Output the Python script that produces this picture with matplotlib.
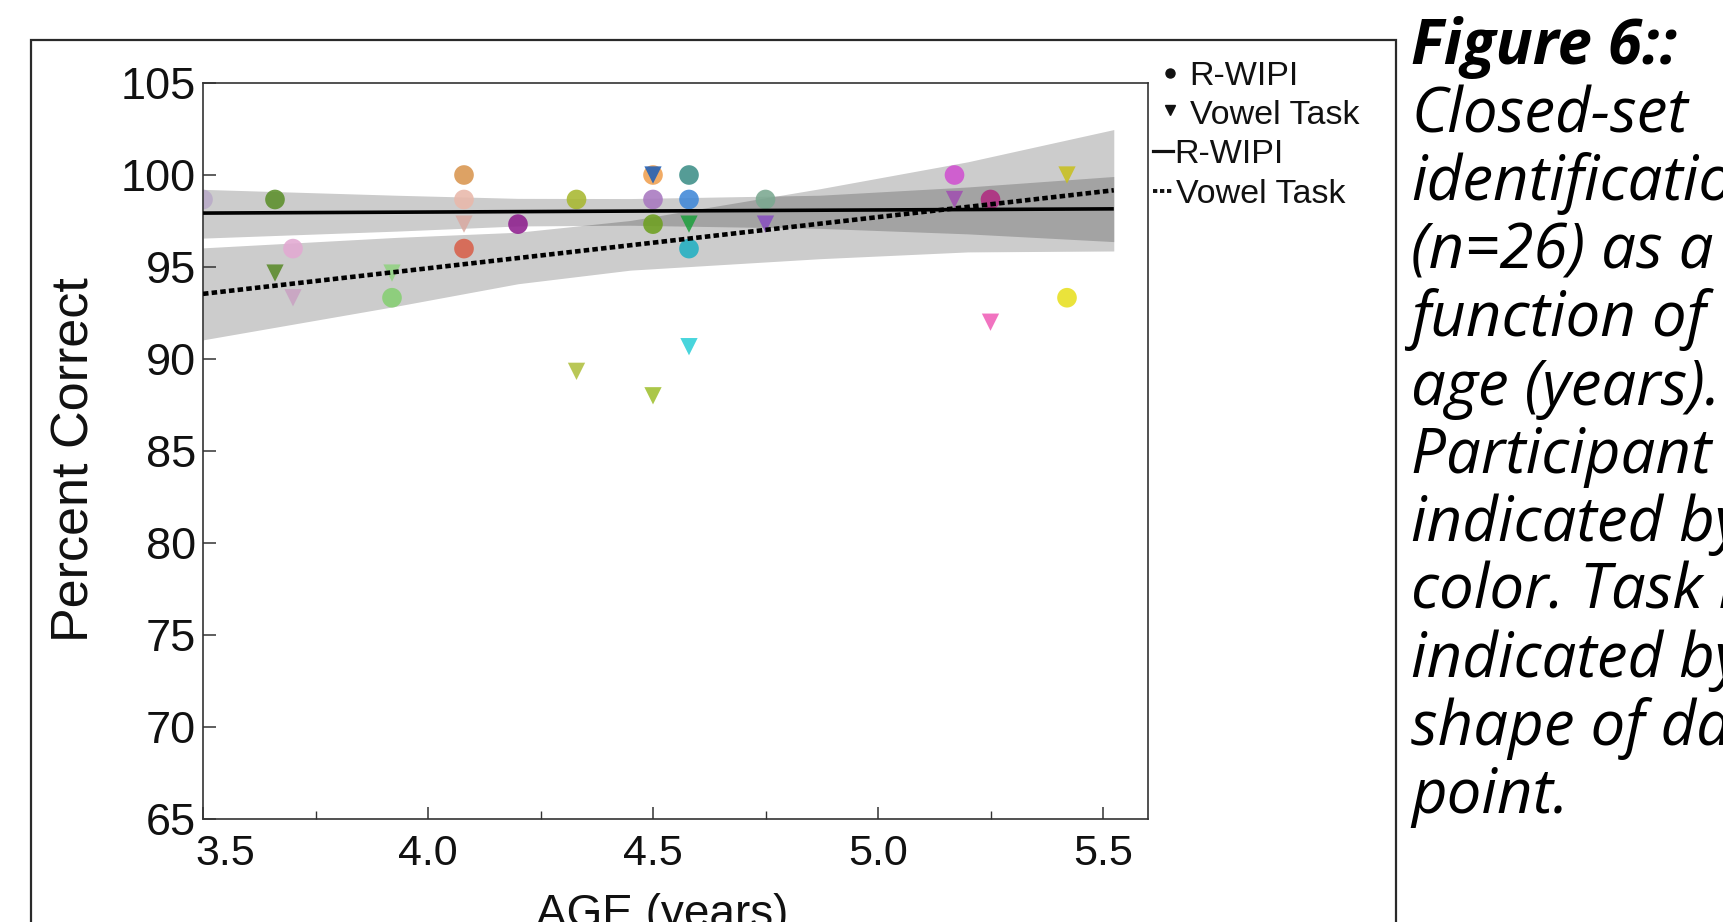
import matplotlib
matplotlib.use("Agg")
import matplotlib.pyplot as plt
from matplotlib.lines import Line2D
from matplotlib.patches import Rectangle
from matplotlib.transforms import ScaledTranslation

plt.rcParams['font.family'] = ['Liberation Sans', 'DejaVu Sans']

# ---------------- data ----------------
# R-WIPI (circles)
rwipi_age = [3.50, 3.66, 3.70, 3.92, 4.08, 4.08, 4.08, 4.20, 4.33, 4.50,
             4.50, 4.50, 4.58, 4.58, 4.58, 4.75, 5.17, 5.25, 5.42]
rwipi_pct = [98.67, 98.67, 96.00, 93.33, 100.0, 98.67, 96.00, 97.33, 98.67, 100.0,
             98.67, 97.33, 100.0, 98.67, 96.00, 98.67, 100.0, 98.67, 93.33]
rwipi_col = ['#b9aac8', '#5b8f2a', '#e2a9d2', '#86cf72', '#d9954f', '#e9b8aa',
             '#d8604a', '#8e1f8e', '#a8b830', '#f0a050', '#a878c0', '#6ea020',
             '#3d8f88', '#4088d8', '#22b0c2', '#7aa890', '#d050d0', '#b02a80',
             '#e8e020']

# Vowel task (triangles)
vowel_age = [3.66, 3.70, 3.92, 4.08, 4.33, 4.50, 4.50, 4.58, 4.58, 4.75,
             5.17, 5.25, 5.42]
vowel_pct = [94.67, 93.33, 94.67, 97.33, 89.33, 100.0, 88.00, 97.33, 90.67,
             97.33, 98.67, 92.00, 100.0]
vowel_col = ['#5a8a2a', '#c9a2c2', '#92d282', '#d9aaa2', '#b0c040', '#2060b8',
             '#a0c030', '#20a040', '#30d0d8', '#8850c0', '#a050b0', '#f060b8',
             '#c8c020']

# fitted lines (end points)
fit_age = [3.50, 5.524]
rwipi_fit = [97.93, 98.16]
vowel_fit = [93.54, 99.17]

# confidence bands (edges read at several ages)
band_age = [3.50, 3.93, 4.20, 4.45, 4.87, 5.20, 5.524]
rwipi_lo = [96.57, 96.95, 97.23, 97.27, 97.10, 96.80, 96.38]
rwipi_hi = [99.22, 98.90, 98.73, 98.72, 98.90, 99.35, 99.92]
vowel_lo = [91.04, 92.87, 94.09, 94.83, 95.45, 95.82, 95.87]
vowel_hi = [96.04, 96.61, 96.89, 97.53, 99.25, 100.72, 102.47]

x_ticks = [3.5, 4.0, 4.5, 5.0, 5.5]
x_minor = [3.75, 4.25, 4.75, 5.25]
y_ticks = [65, 70, 75, 80, 85, 90, 95, 100, 105]

legend_labels = ['R-WIPI', 'Vowel Task', 'R-WIPI', 'Vowel Task']

caption_lines = ["Figure 6::", "Closed-set", "identification", "(n=26) as a",
                 "function of", "age (years).", "Participant is", "indicated by",
                 "color. Task is", "indicated by", "shape of data", "point."]

# ---------------- figure ----------------
W, H = 1723, 922
fig = plt.figure(figsize=(W / 100, H / 100), dpi=100)
fig.patch.set_facecolor('white')


def fx(px):
    return px / W


def fy(py):
    return 1 - py / H


# outer frame
fig.add_artist(Rectangle((fx(31), fy(1000)), fx(1396) - fx(31), (1000 - 40) / H,
                         transform=fig.transFigure, fill=False, lw=1.6,
                         ec='#2a2a2a'))

ax = fig.add_axes([fx(203), fy(819), fx(1148) - fx(203), (819 - 83) / H])

ax.fill_between(band_age, rwipi_lo, rwipi_hi, color='k', alpha=0.2, lw=0, zorder=1)
ax.fill_between(band_age, vowel_lo, vowel_hi, color='k', alpha=0.2, lw=0, zorder=1)

ax.scatter(rwipi_age, rwipi_pct, s=200, c=rwipi_col, marker='o', alpha=0.88,
           linewidths=0, zorder=2)
ax.scatter(vowel_age, vowel_pct, s=155, c=vowel_col, marker='v', alpha=0.88,
           linewidths=0, zorder=2)

ax.plot(fit_age, rwipi_fit, color='k', lw=2.6, solid_capstyle='butt', zorder=3)
ax.plot(fit_age, vowel_fit, color='k', lw=3.3, linestyle=(0, (1.2, 0.7)),
        dash_capstyle='butt', zorder=3)

ax.set_xlim(3.5, 5.6)
ax.set_ylim(65, 105)
ax.set_xticks(x_ticks)
ax.set_xticklabels([f"{v:.1f}" for v in x_ticks])
ax.set_xticks(x_minor, minor=True)
ax.set_yticks(y_ticks)
ax.set_yticklabels([str(v) for v in y_ticks])

ax.tick_params(axis='both', which='major', direction='in', length=9, width=1.1,
               color='#333333', labelsize=31, labelcolor='#111111')
ax.tick_params(axis='y', which='major', labelsize=32.5, pad=5)
ax.tick_params(axis='x', which='major', pad=11)
ax.tick_params(axis='x', which='minor', direction='in', length=6, width=1.0,
               color='#333333')
for sp in ax.spines.values():
    sp.set_color('#333333')
    sp.set_linewidth(1.2)

# the first x label sits a little to the right of its tick
lab0 = ax.xaxis.get_major_ticks()[0].label1
lab0.set_transform(lab0.get_transform() + ScaledTranslation(0.22, 0, fig.dpi_scale_trans))

ax.set_xlabel('AGE (years)', fontsize=33, color='#111111')
ax.xaxis.set_label_coords(0.486, -0.1)
ax.set_ylabel('Percent Correct', fontsize=37.5, color='#111111')
ax.yaxis.set_label_coords(-0.110, 0.489)

# legend (drawn to the right of the axes, as in the original)
leg_y = [73, 112, 151, 191]
fig.add_artist(Line2D([fx(1170)], [fy(leg_y[0])], transform=fig.transFigure,
                      marker='o', ms=6.5, color='#111111', linestyle='None'))
fig.add_artist(Line2D([fx(1170)], [fy(leg_y[1] - 2)], transform=fig.transFigure,
                      marker='v', ms=6.5, color='#111111', linestyle='None'))
fig.add_artist(Line2D([fx(1153), fx(1173)], [fy(leg_y[2])] * 2,
                      transform=fig.transFigure, color='#111111', lw=2.3))
fig.add_artist(Line2D([fx(1153), fx(1173)], [fy(leg_y[3])] * 2,
                      transform=fig.transFigure, color='#111111', lw=2.8,
                      linestyle=(0, (1.1, 0.7))))
leg_x = [1189, 1190, 1174, 1176]
for lx, ly, t in zip(leg_x, leg_y, legend_labels):
    fig.text(fx(lx), fy(ly + 12), t, fontsize=24.5, color='#111111',
             ha='left', va='baseline')

# caption on the right
for i, line in enumerate(caption_lines):
    fig.text(fx(1411), fy(64 + i * 68.1), line, fontsize=44.5,
             family=['Open Sans', 'DejaVu Sans'], style='italic',
             weight='bold' if i == 0 else 'normal', color='black',
             ha='left', va='baseline')

fig.savefig('out.png', dpi=100)
